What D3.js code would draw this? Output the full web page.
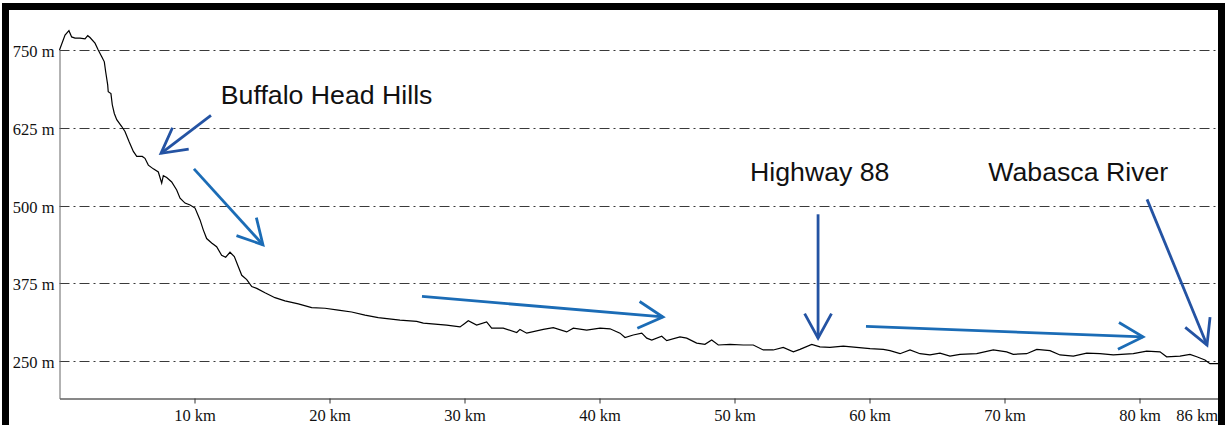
<!DOCTYPE html>
<html>
<head>
<meta charset="utf-8">
<script src="https://cdn.jsdelivr.net/npm/d3@7"></script>
<style>
  body { margin: 0; background: #fff; }
  svg { display: block; }
</style>
</head>
<body>
<div id="profile"></div>
<script>
// elevation profile
var profileKm = [0, 0.41, 0.70, 0.90, 1.15, 1.52, 1.89, 2.09, 2.26, 2.63, 2.87, 3.13, 3.32, 3.42, 3.57, 3.61, 3.81, 3.91, 4.06, 4.24,
  4.61, 4.85, 5.15, 5.47, 5.72, 6.13, 6.33, 6.58, 6.95, 7.32, 7.57, 7.69, 7.94, 8.31, 8.68, 8.93, 9.30, 9.67, 10.04, 10.41,
  10.65, 10.90, 11.27, 11.64, 12.01, 12.31, 12.63, 12.95, 13.24, 13.50, 13.87, 14.24, 14.61, 15.22, 15.96, 16.70, 17.69, 18.68, 19.67, 20.65,
  21.64, 22.63, 23.61, 25.22, 26.46, 26.95, 28.68, 29.67, 30.04, 30.28, 30.90, 31.64, 32.01, 32.87, 33.87, 34.11, 34.61, 35.84, 36.58, 37.57,
  38.06, 39.05, 40.04, 40.78, 41.52, 41.89, 42.50, 43.13, 43.50, 43.87, 44.61, 44.98, 45.96, 46.46, 47.20, 47.81, 48.31, 48.80, 49.67, 50.65,
  51.39, 52.13, 52.87, 53.61, 54.36, 54.85, 55.72, 56.33, 57.07, 58.06, 59.04, 60.04, 61.02, 61.52, 62.26, 63.00, 63.74, 64.48, 65.22, 65.96,
  66.70, 67.94, 69.17, 70.16, 70.65, 71.64, 72.39, 73.37, 74.11, 75.10, 76.09, 77.07, 78.06, 79.54, 80.53, 81.52, 82.01, 83.00, 83.74, 84.24,
  84.85, 85.22, 85.96]
var profileElev = [750, 774, 781, 771, 769, 769, 768, 773, 770, 761, 750, 739, 731, 715, 694, 683, 680, 662, 648, 638,
  627, 619, 603, 587, 579, 579, 576, 565, 559, 554, 536, 548, 545, 538, 525, 512, 504, 501, 496, 477,
  461, 447, 440, 434, 420, 417, 425, 418, 402, 388, 381, 370, 367, 360, 352, 347, 342, 336, 335, 332,
  329, 324, 320, 316, 314, 311, 308, 305, 311, 315, 308, 313, 303, 303, 296, 301, 295, 301, 304, 297,
  303, 300, 303, 302, 295, 288, 292, 295, 287, 284, 290, 283, 289, 287, 279, 277, 284, 276, 277, 276,
  276, 268, 268, 272, 265, 269, 277, 273, 272, 274, 272, 270, 269, 267, 262, 268, 262, 260, 263, 258,
  261, 262, 268, 265, 261, 262, 269, 267, 260, 258, 263, 262, 260, 262, 266, 265, 257, 258, 261, 257,
  252, 246, 246]

var yTicks = [250, 375, 500, 625, 750]
var xTicks = [10, 20, 30, 40, 50, 60, 70, 80, 86]

var labelText = ["Buffalo Head Hills", "Highway 88", "Wabasca River"]
var labelKm = [11.95, 51.15, 68.8]
var labelElev = [664, 540, 540]

// arrows: from (km, m) to (km, m)
var arrowFromKm = [11.22, 9.96, 26.85, 56.19, 59.74, 80.56]
var arrowFromElev = [645, 559, 354, 486, 306, 510]
var arrowToKm = [7.52, 15.07, 44.70, 56.19, 80.26, 85.0]
var arrowToElev = [584, 437, 321, 287, 289, 276]
var arrowShade = ["dark", "light", "light", "dark", "light", "dark"]

var svg = d3.select("#profile").append("svg")
  .attr("width", 1227)
  .attr("height", 425)

var x = d3.scaleLinear()
  .domain([0, 86])
  .range([59.5, 1220.5])

var y = d3.scaleLinear()
  .domain([190, 750])
  .range([398.5, 50])

// dash-dot gridlines
svg.selectAll("grid")
  .data(yTicks)
  .enter()
  .append("line")
  .attr("x1", x(0))
  .attr("x2", 1218)
  .attr("y1", d => Math.round(y(d)) + 0.5)
  .attr("y2", d => Math.round(y(d)) + 0.5)
  .attr("stroke", "#3a3a3a")
  .attr("stroke-width", 1.1)
  .attr("stroke-dasharray", "10,4,2,4")

var xAxis = svg.append("g")
  .attr("transform", "translate(0," + y(190) + ")")
  .call(d3.axisBottom(x).tickValues(xTicks).tickFormat(d => d + " km").tickSize(5).tickSizeOuter(0).tickPadding(6))
xAxis.select(".domain").attr("stroke", "#111")
xAxis.selectAll(".tick line").attr("stroke", "#333")
xAxis.selectAll("text")
  .attr("font-family", "Liberation Serif")
  .attr("font-size", 16.5)
  .attr("fill", "#111")
// last label pulled left so it sits inside the frame
xAxis.selectAll("text")
  .filter(d => d == 86)
  .attr("text-anchor", "end")
  .attr("dx", -3)

var yAxis = svg.append("g")
  .attr("transform", "translate(" + x(0) + ",0)")
  .call(d3.axisLeft(y).tickValues(yTicks).tickFormat(d => d + " m").tickSize(0).tickPadding(5))
yAxis.select(".domain").attr("stroke", "#666")
yAxis.selectAll("text")
  .attr("font-family", "Liberation Serif")
  .attr("font-size", 16.5)
  .attr("fill", "#111")
  .attr("dy", "0.4em")

var line = d3.line()
  .x(d => x(d[0]))
  .y(d => y(d[1]))

svg.append("path")
  .datum(profileKm.map((k, i) => [k, profileElev[i]]))
  .attr("d", line)
  .attr("fill", "none")
  .attr("stroke", "#000")
  .attr("stroke-width", 1.2)

// annotations
svg.selectAll("labels")
  .data(labelText)
  .enter()
  .append("text")
  .text(d => d)
  .attr("x", (d, i) => x(labelKm[i]))
  .attr("y", (d, i) => y(labelElev[i]))
  .attr("font-family", "Liberation Sans")
  .attr("font-size", 26.7)
  .attr("fill", "#111")

var shade = { dark: "#2453a3", light: "#1b6cb6" }

arrowFromKm.forEach(function (k, i) {
  var x1 = x(k), y1 = y(arrowFromElev[i])
  var x2 = x(arrowToKm[i]), y2 = y(arrowToElev[i])
  var a = Math.atan2(y1 - y2, x1 - x2)
  var len = 28, spread = 0.5
  var w1 = [x2 + len * Math.cos(a + spread), y2 + len * Math.sin(a + spread)]
  var w2 = [x2 + len * Math.cos(a - spread), y2 + len * Math.sin(a - spread)]
  var g = svg.append("g")
    .attr("stroke", shade[arrowShade[i]])
    .attr("stroke-width", 2.8)
    .attr("fill", "none")
  g.append("line")
    .attr("x1", x1).attr("y1", y1)
    .attr("x2", x2).attr("y2", y2)
  g.append("path")
    .attr("d", "M" + w1 + "L" + [x2, y2] + "L" + w2)
})

// frame
svg.append("rect")
  .attr("x", 5.5)
  .attr("y", 6.5)
  .attr("width", 1216)
  .attr("height", 440)
  .attr("fill", "none")
  .attr("stroke", "#000")
  .attr("stroke-width", 7)
</script>
</body>
</html>
